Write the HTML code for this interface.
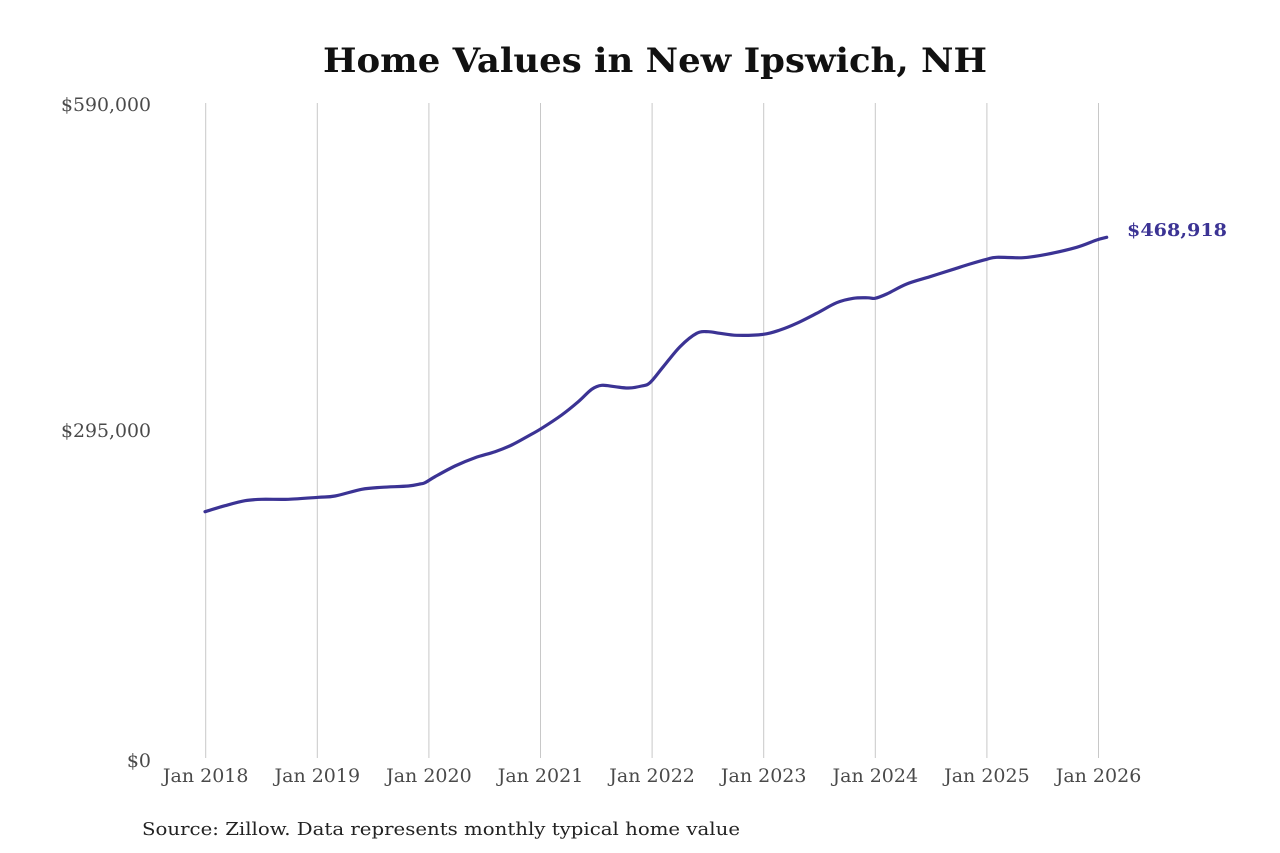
<!DOCTYPE html>
<html><head><meta charset="utf-8"><style>
html,body{margin:0;padding:0;background:#fff;}
svg{display:block;}
text{font-family:"DejaVu Serif","Liberation Serif",serif;}
</style></head><body>
<svg width="1280" height="853" viewBox="0 0 1280 853" xmlns="http://www.w3.org/2000/svg">
<rect width="1280" height="853" fill="#fff"/>
<text x="655" y="72" text-anchor="middle" font-size="34" font-weight="bold" fill="#111" textLength="664" lengthAdjust="spacingAndGlyphs">Home Values in New Ipswich, NH</text>
<g stroke="#c8c8c8" stroke-width="1">
<line x1="205.7" y1="103" x2="205.7" y2="758"/>
<line x1="317.3" y1="103" x2="317.3" y2="758"/>
<line x1="428.9" y1="103" x2="428.9" y2="758"/>
<line x1="540.5" y1="103" x2="540.5" y2="758"/>
<line x1="652.1" y1="103" x2="652.1" y2="758"/>
<line x1="763.7" y1="103" x2="763.7" y2="758"/>
<line x1="875.3" y1="103" x2="875.3" y2="758"/>
<line x1="986.9" y1="103" x2="986.9" y2="758"/>
<line x1="1098.5" y1="103" x2="1098.5" y2="758"/>
</g>
<g font-size="19" fill="#4a4a4a" text-anchor="end">
<text x="151" y="111" textLength="90" lengthAdjust="spacingAndGlyphs">$590,000</text>
<text x="151" y="437" textLength="90" lengthAdjust="spacingAndGlyphs">$295,000</text>
<text x="151" y="767">$0</text>
</g>
<g font-size="19" fill="#4a4a4a" text-anchor="middle">
<text x="205.7" y="782">Jan 2018</text>
<text x="317.3" y="782">Jan 2019</text>
<text x="428.9" y="782">Jan 2020</text>
<text x="540.5" y="782">Jan 2021</text>
<text x="652.1" y="782">Jan 2022</text>
<text x="763.7" y="782">Jan 2023</text>
<text x="875.3" y="782">Jan 2024</text>
<text x="986.9" y="782">Jan 2025</text>
<text x="1098.5" y="782">Jan 2026</text>
</g>
<polyline id="ln" fill="none" stroke="#3b3394" stroke-width="3.2" stroke-linejoin="round" stroke-linecap="round" points="
205,511.7 225,505.7 245,500.7 261.7,499.3 288.3,499.3 318.3,497.3 335,496 361.7,489.3 381.7,487.3 408.3,486 420,484 425,482.7 435,476.7 455,466 475,457.7 495,451.7 511.7,445 528.3,436 541.7,428.3 561.7,415 578.3,401.7 591.7,389.3 601.7,385.3 615,386.7 628.3,388 641.7,386 650,382.7 663.3,366.7 680,346.7 696.7,333.3 708.3,331.7 720,333.3 736.7,335.3 763.3,334.3 780,330 796.7,323.3 816.7,313.3 836.7,302.7 853.3,298.3 868,297.8 875,298.3 886.7,294 906.7,284 930,276.7 953.3,269.3 970,264 986.7,259.3 996.7,257.3 1023.3,257.7 1046.7,254.3 1076.7,247.3 1096.7,240 1106.7,237.3"/>
<path id="sm" fill="none" stroke="#3b3394" stroke-width="3.2" stroke-linejoin="round" stroke-linecap="round" d=""/>
<text x="1127" y="236" font-size="18" font-weight="bold" fill="#3b3394" textLength="100" lengthAdjust="spacingAndGlyphs">$468,918</text>
<text x="142" y="835" font-size="18" fill="#222" textLength="598" lengthAdjust="spacingAndGlyphs">Source: Zillow. Data represents monthly typical home value</text>
</svg>
<script>
(function(){
var pl=document.getElementById('ln');
var pts=pl.getAttribute('points').trim().split(/\s+/).map(function(s){var a=s.split(',');return [parseFloat(a[0]),parseFloat(a[1])];});
var d='M'+pts[0][0]+','+pts[0][1];
for(var i=0;i<pts.length-1;i++){
var p0=pts[Math.max(0,i-1)],p1=pts[i],p2=pts[i+1],p3=pts[Math.min(pts.length-1,i+2)];
var c1x=p1[0]+(p2[0]-p0[0])/6,c1y=p1[1]+(p2[1]-p0[1])/6;
var c2x=p2[0]-(p3[0]-p1[0])/6,c2y=p2[1]-(p3[1]-p1[1])/6;
d+=' C'+c1x.toFixed(2)+','+c1y.toFixed(2)+' '+c2x.toFixed(2)+','+c2y.toFixed(2)+' '+p2[0]+','+p2[1];
}
document.getElementById('sm').setAttribute('d',d);
pl.setAttribute('stroke','none');
})();
</script>
</body></html>
